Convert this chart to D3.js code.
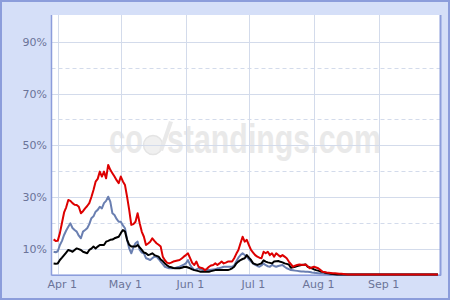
<!DOCTYPE html>
<html><head><meta charset="utf-8">
<script src="https://cdn.jsdelivr.net/npm/d3@7"></script>
<style>html,body{margin:0;padding:0;background:#fff}svg{display:block}</style>
</head><body>
<svg id="c" width="454" height="304"></svg>
<script>
// ---- data ----
const startDate = "2008-03-30";            // first daily value
const domainDates = ["2008-03-29", "2008-09-30"];
const monthTicks = ["2008-04-01","2008-05-01","2008-06-01","2008-07-01","2008-08-01","2008-09-01"];
const monthLabels = ["Apr 1","May 1","Jun 1","Jul 1","Aug 1","Sep 1"];
const yMajor = [10,30,50,70,90];
const yMajorLabels = ["10%","30%","50%","70%","90%"];
const yMinor = [20,40,60,80];

const red = [13.6,13.0,13.1,16,20,24,26,28.8,28.5,27.6,
 27,26.9,26.2,23.7,24.5,25.6,26.5,27.6,30,32.7,
 35.9,37,39.8,37.9,39.8,37.2,42.4,40.5,39.2,37.9,
 36.5,35.3,37.9,36,34.6,30,25,19.2,19.5,20.4,
 23.7,19.8,16.5,14.6,11.4,12,12.7,14,13,12.1,
 11.5,10.8,6.9,5.5,4.6,4.3,4.6,5,5.2,5.4,
 5.6,6.2,6.9,7.5,8.2,6.3,4.5,3.7,5,3,
 2.6,2.4,1.7,2.2,3,3.5,3.7,4.3,3.7,4.3,
 5,4.3,4.6,5,5,5,6.3,8,9.5,12.1,
 14.6,12.7,13.4,11.4,9.5,8.5,7.5,6.9,6.5,6.3,
 8.8,8.2,8.8,7.5,8.2,6.9,8.2,7.5,6.9,7.5,
 6.9,6.3,5,4,3,3.4,3.7,3.9,3.8,3.7,
 3.9,3.2,2.4,2.7,3,2.7,2.4,1.8,1.1,1.0,
 0.8,0.7,0.6,0.5,0.5,0.4,0.3,0.3,0.2,0.1,
 0,0,0,0,0,0,0,0,0,0,
 0,0,0,0,0,0,0,0,0,0,
 0,0,0,0,0,0,0,0,0,0,
 0,0,0,0,0,0,0,0,0,0,
 0,0,0,0];

const blue = [8.8,8.6,9.0,11.4,13,15.3,17,18.5,19.8,18,
 17.2,16.6,15,14,16.6,17.2,17.9,19.5,21.8,22.5,
 24.3,25,26.2,25.6,27.6,28.5,30.1,28.2,23.7,23,
 21.5,20.4,20.4,19,17.9,13.4,10.1,8.2,10.5,12.1,
 12.7,9.5,8.5,8.2,6.3,6,5.6,6.3,6.9,6.9,
 6,5,4,3,2.7,2.4,2.4,2.4,2.5,2.8,
 3,3.4,3.8,4.3,5.6,3.7,2.6,1.7,2,2.4,
 2,1.7,1.7,1.7,1.7,1.8,1.9,2,2.4,2.5,
 2.7,3,3,3,3,3,3.5,5,6.5,7.5,
 8.2,7.5,6.9,5.8,5,4.3,3.7,3.3,3,3.5,
 4.3,3.6,3.2,3,3.7,3.3,3,3.3,3.5,3.7,
 3,2.4,2.1,1.7,1.6,1.5,1.4,1.3,1.2,1.2,
 1.1,1.1,1,0.8,0.7,0.6,0.5,0.4,0.4,0.3,
 0.2,0.1,
 0,0,0,0,0,0,0,0,0,0,
 0,0,0,0,0,0,0,0,0,0,
 0,0,0,0,0,0,0,0,0,0,
 0,0,0,0,0,0,0,0,0,0,
 0,0,0,0,0,0,0,0,0,0,
 0,0];

const black = [4.3,4.2,4.3,5.6,6.5,7.5,8.5,9.5,9.2,8.8,
 9.5,10.1,9.8,9.5,8.8,8.5,8.2,9.5,10,10.8,
 10.1,10.8,11.4,11.4,11.4,12.7,13,13.4,13.5,14,
 14.3,14.6,16,17.2,16.6,13.4,11.5,10.8,10.8,10.8,
 11.4,10.5,9.5,8.5,8.2,7.5,7.8,8.2,7.5,7.2,
 6.9,5.8,5.2,4.3,3.6,3,2.8,2.5,2.4,2.4,
 2.4,2.6,2.9,3,2.7,2.4,2,1.7,1.5,1.3,
 1.1,1.1,1.1,1.1,1.1,1.3,1.5,1.7,1.7,1.7,
 1.7,1.7,1.7,1.7,2,2.4,3,4.3,5,5.6,
 6,6.3,7.5,6.5,5.6,4.3,4,3.7,4,4.3,
 5.5,5,4.7,4.5,4.3,5,5.1,5.2,4.9,4.7,
 4.3,4.1,3.9,2.6,2.8,3,3.3,3.5,3.7,3.8,
 3.9,3,2.7,2.4,2,1.7,1.5,1.2,1.1,0.8,
 0.6,0.5,0.3,0.2,0.1,
 0,0,0,0,0,0,0,0,0,0,
 0,0,0,0,0,0,0,0,0,0,
 0,0,0,0,0,0,0,0,0,0,
 0,0,0,0,0,0,0,0,0,0,
 0,0,0,0,0,0,0,0,0];

// ---- drawing ----
const parse = d3.timeParse("%Y-%m-%d");
const day0 = parse(startDate);
const dates = red.map((_, i) => d3.timeDay.offset(day0, i));

const svg = d3.select("#c");
const plot = {left: 51.5, right: 440, top: 15, bottom: 274.5};

const x = d3.scaleTime().domain(domainDates.map(parse)).range([plot.left, plot.right]);
const y = d3.scaleLinear().domain([0, 100]).range([plot.bottom, 16]);

// outer frame
svg.append("rect").attr("x", 1).attr("y", 1).attr("width", 448).attr("height", 298)
  .attr("fill", "#d5dff8").attr("stroke", "#8c9ddb").attr("stroke-width", 2);

// plot background
svg.append("rect").attr("x", plot.left).attr("y", plot.top)
  .attr("width", plot.right - plot.left).attr("height", plot.bottom - plot.top)
  .attr("fill", "#ffffff");

// watermark
const wm = svg.append("g").attr("fill", "#e9e9e9").attr("font-family", "Liberation Sans, Arial, sans-serif")
  .attr("font-weight", "bold");
wm.append("text").attr("x", 109).attr("y", 153).attr("font-size", 40)
  .attr("textLength", 34).attr("lengthAdjust", "spacingAndGlyphs").text("co");
wm.append("circle").attr("cx", 153).attr("cy", 145).attr("r", 9.5)
  .attr("fill", "#f0f0f0").attr("stroke", "#e4e4e4").attr("stroke-width", 1.5);
wm.append("path").attr("d", "M159,150 L169,121 L173,122 L163,151 Z").attr("fill", "#e9e9e9");
wm.append("text").attr("x", 167).attr("y", 153).attr("font-size", 40)
  .attr("textLength", 214).attr("lengthAdjust", "spacingAndGlyphs").text("standings.com");

// grid
const grid = svg.append("g");
grid.selectAll("line.maj").data(yMajor).join("line")
  .attr("x1", plot.left).attr("x2", plot.right)
  .attr("y1", d => Math.round(y(d)) + 0.5).attr("y2", d => Math.round(y(d)) + 0.5)
  .attr("stroke", "#d3dbeb").attr("stroke-width", 1);
grid.selectAll("line.min").data(yMinor).join("line")
  .attr("x1", plot.left).attr("x2", plot.right)
  .attr("y1", d => Math.round(y(d)) + 0.5).attr("y2", d => Math.round(y(d)) + 0.5)
  .attr("stroke", "#d3dbeb").attr("stroke-width", 1).attr("stroke-dasharray", "4,3");
grid.selectAll("line.v").data(monthTicks.map(parse)).join("line")
  .attr("x1", d => Math.round(x(d)) + 0.5).attr("x2", d => Math.round(x(d)) + 0.5)
  .attr("y1", plot.top).attr("y2", plot.bottom)
  .attr("stroke", "#d3dbeb").attr("stroke-width", 1);

// plot border (left/right/bottom)
svg.append("line").attr("x1", plot.left).attr("x2", plot.left).attr("y1", plot.top).attr("y2", plot.bottom + 1)
  .attr("stroke", "#8c9ddb").attr("stroke-width", 1.5);
svg.append("line").attr("x1", plot.right + 0.5).attr("x2", plot.right + 0.5).attr("y1", plot.top).attr("y2", plot.bottom + 1)
  .attr("stroke", "#8c9ddb").attr("stroke-width", 2);
svg.append("line").attr("x1", plot.left).attr("x2", plot.right + 1).attr("y1", plot.bottom + 0.75).attr("y2", plot.bottom + 0.75)
  .attr("stroke", "#8c9ddb").attr("stroke-width", 1.5);

// axes labels via d3 axes
const labelColor = "#6b7499";
const xAxis = d3.axisBottom(x).tickValues(monthTicks.map(parse))
  .tickFormat((d, i) => monthLabels[i]).tickSize(0).tickPadding(0);
const gx = svg.append("g").attr("transform", `translate(4,${plot.bottom + 6})`).call(xAxis);
gx.select(".domain").remove();
gx.selectAll("text").attr("fill", labelColor).attr("font-size", 11)
  .attr("font-family", "DejaVu Sans, Verdana, sans-serif");

const yAxis = d3.axisLeft(y).tickValues(yMajor).tickFormat((d, i) => yMajorLabels[i]).tickSize(0).tickPadding(0);
const gy = svg.append("g").attr("transform", `translate(${plot.left - 4.5},0)`).call(yAxis);
gy.select(".domain").remove();
gy.selectAll("text").attr("fill", labelColor).attr("font-size", 11)
  .attr("font-family", "DejaVu Sans, Verdana, sans-serif");

// series
const series = [
  {name: "blue", values: blue, color: "#6a7fb1"},
  {name: "black", values: black, color: "#000000"},
  {name: "red", values: red, color: "#dd0000"}
];
const line = d3.line().x((d, i) => x(dates[i])).y(d => y(d));
svg.append("g").selectAll("path").data(series).join("path")
  .attr("d", s => line(s.values))
  .attr("fill", "none").attr("stroke", s => s.color).attr("stroke-width", 2)
  .attr("stroke-linejoin", "round");
</script>
</body></html>
